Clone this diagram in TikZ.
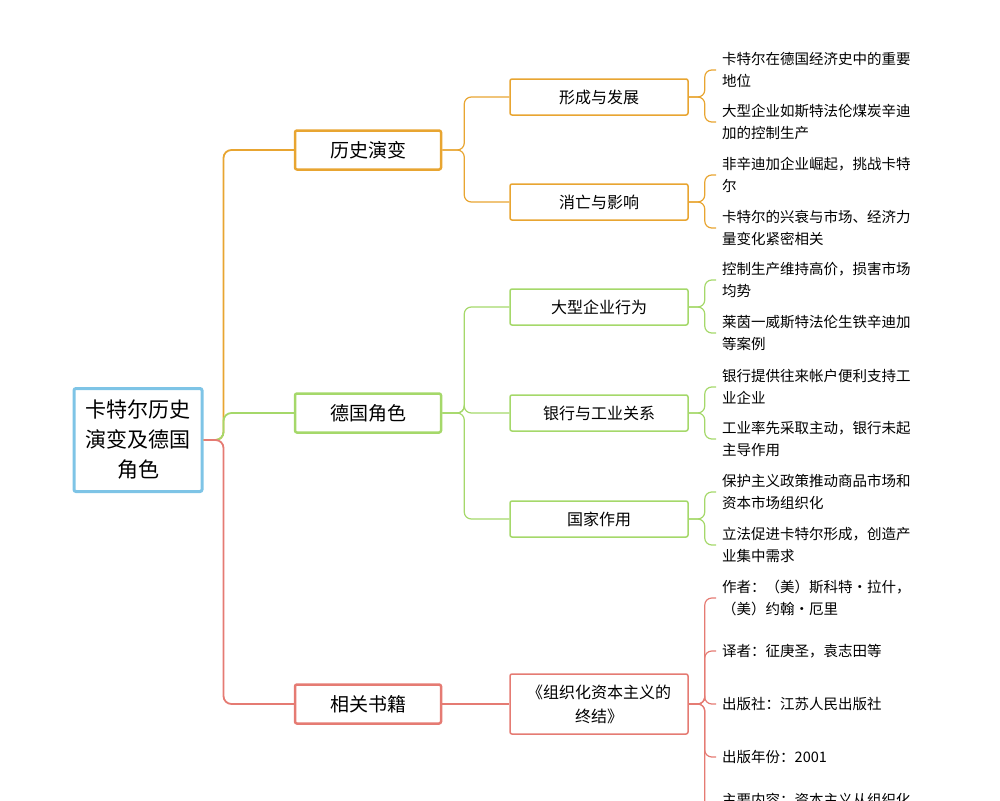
\documentclass[tikz,border=0pt]{standalone}
\usepackage{fontspec}
\setmainfont{Noto Sans CJK SC}
\definecolor{orangeline}{HTML}{E8A531}
\definecolor{greenline}{HTML}{A5D86A}
\definecolor{redline}{HTML}{E57B73}
\definecolor{blueline}{HTML}{7EC4E6}
\begin{document}
\begin{tikzpicture}[x=1pt,y=-1pt,
  rootbox/.style={draw=blueline,line width=3pt,rounded corners=2pt,minimum width=128pt,minimum height=103pt,align=center,font=\fontsize{21}{30}\selectfont},
  mainbox/.style={draw=#1,line width=2.5pt,rounded corners=2pt,minimum width=146pt,minimum height=39pt,font=\fontsize{19}{24}\selectfont},
  subbox/.style={draw=#1,line width=1.5pt,rounded corners=2pt,minimum width=178pt,minimum height=36pt,align=center,font=\fontsize{16}{24}\selectfont},
  leaf/.style={anchor=west,align=left,inner sep=0pt,font=\fontsize{14.5}{22}\selectfont},
  link/.style={draw=#1,line width=1.8pt,rounded corners=8pt},
  twig/.style={draw=#1,line width=1.2pt,rounded corners=7pt}]
\useasboundingbox (0,0) rectangle (1000,800);
% root and main branches
\node[rootbox] (root) at (138,440) {卡特尔历史\\演变及德国\\角色};
\node[mainbox=orangeline] (hist) at (368,150) {历史演变};
\node[mainbox=greenline] (ger) at (368,413) {德国角色};
\node[mainbox=redline] (book) at (368,704) {相关书籍};
\draw[link=orangeline] (root.east) -- ++(20,0) |- (hist.west);
\draw[link=greenline] (root.east) -- ++(20,0) |- (ger.west);
\draw[link=redline] (root.east) -- ++(20,0) |- (book.west);
% second level
\node[subbox=orangeline] (form) at (599,97) {形成与发展};
\node[subbox=orangeline] (fall) at (599,202) {消亡与影响};
\node[subbox=greenline] (firm) at (599,307) {大型企业行为};
\node[subbox=greenline] (bank) at (599,413) {银行与工业关系};
\node[subbox=greenline] (state) at (599,519) {国家作用};
\node[subbox=redline,minimum height=60pt] (title) at (599,704) {《组织化资本主义的\\终结》};
\foreach \s in {form,fall} \draw[twig=orangeline] (hist.east) -- ++(22,0) |- (\s.west);
\foreach \s in {firm,bank,state} \draw[twig=greenline] (ger.east) -- ++(22,0) |- (\s.west);
\draw[twig=redline] (book.east) -- (title.west);
% leaves
\node[leaf] (form1) at (722,70) {卡特尔在德国经济史中的重要\\地位};
\node[leaf] (form2) at (722,122) {大型企业如斯特法伦煤炭辛迪\\加的控制生产};
\node[leaf] (fall1) at (722,175) {非辛迪加企业崛起，挑战卡特\\尔};
\node[leaf] (fall2) at (722,228) {卡特尔的兴衰与市场、经济力\\量变化紧密相关};
\node[leaf] (firm1) at (722,280) {控制生产维持高价，损害市场\\均势};
\node[leaf] (firm2) at (722,333) {莱茵一威斯特法伦生铁辛迪加\\等案例};
\node[leaf] (bank1) at (722,387) {银行提供往来帐户便利支持工\\业企业};
\node[leaf] (bank2) at (722,439) {工业率先采取主动，银行未起\\主导作用};
\node[leaf] (state1) at (722,492) {保护主义政策推动商品市场和\\资本市场组织化};
\node[leaf] (state2) at (722,545) {立法促进卡特尔形成，创造产\\业集中需求};
\node[leaf] (info1) at (722,598) {作者：（美）斯科特·拉什，\\（美）约翰·厄里};
\node[leaf] (info2) at (722,651) {译者：征庚圣，袁志田等};
\node[leaf] (info3) at (722,704) {出版社：江苏人民出版社};
\node[leaf] (info4) at (722,757) {出版年份：2001};
\node[leaf] (info5) at (722,810) {主要内容：资本主义从组织化\\};
\foreach \p/\l in {form/form1,form/form2,fall/fall1,fall/fall2} \draw[twig=orangeline] (\p.east) -- ++(16,0) |- ([xshift=-6pt]\l.west);
\foreach \p/\l in {firm/firm1,firm/firm2,bank/bank1,bank/bank2,state/state1,state/state2} \draw[twig=greenline] (\p.east) -- ++(16,0) |- ([xshift=-6pt]\l.west);
\foreach \l in {info1,info2,info3,info4,info5} \draw[twig=redline] (title.east) -- ++(16,0) |- ([xshift=-6pt]\l.west);
\end{tikzpicture}
\end{document}
